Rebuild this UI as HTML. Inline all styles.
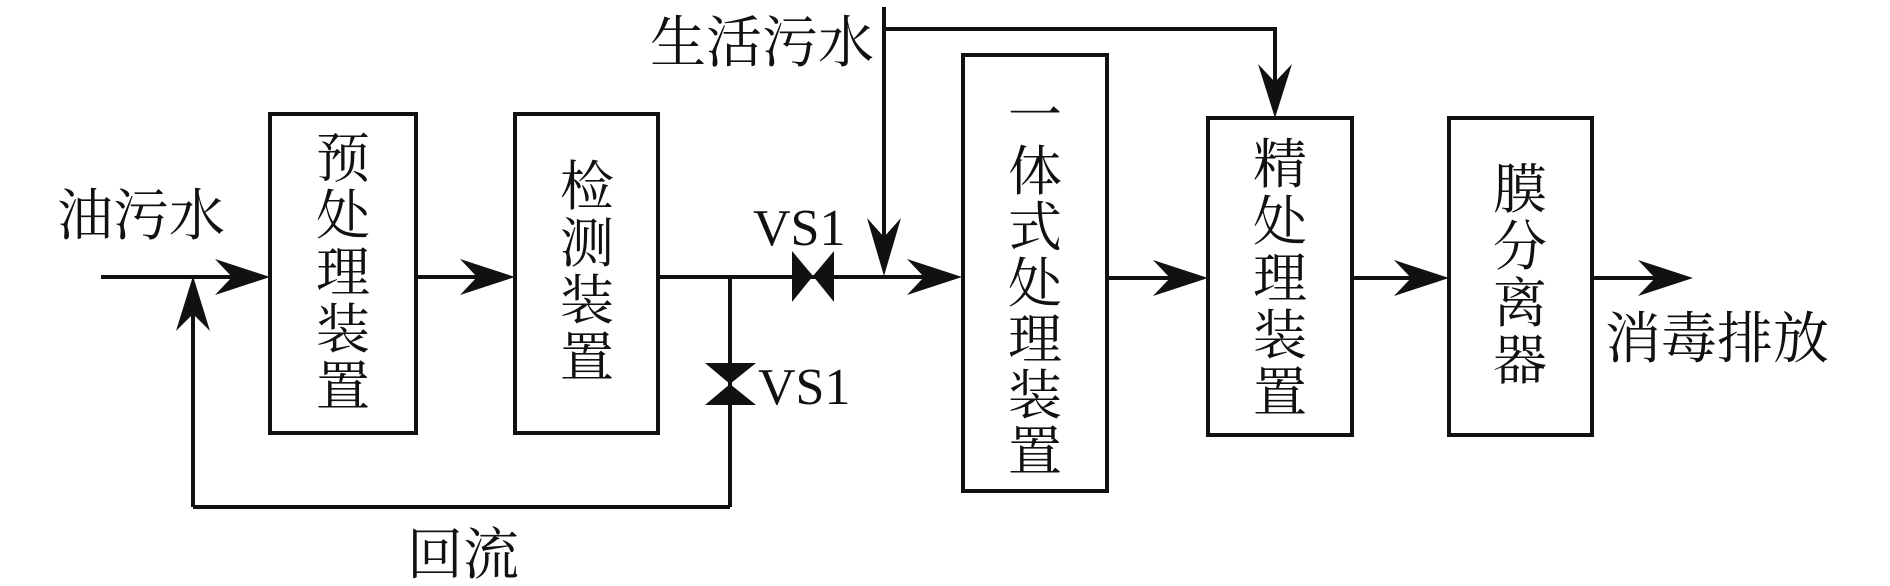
<!DOCTYPE html>
<html><head><meta charset="utf-8"><style>
html,body{margin:0;padding:0;background:#fff;}
svg{display:block;}
text{font-family:"Liberation Serif","Noto Serif CJK SC",serif;fill:#111;}
.c{font-size:54px;text-anchor:middle;}
</style></head><body>
<svg width="1890" height="586" viewBox="0 0 1890 586" xmlns="http://www.w3.org/2000/svg">
<g fill="none" stroke="#111" stroke-width="4">
<rect x="270" y="114" width="146" height="319"/>
<rect x="515" y="114" width="143" height="319"/>
<rect x="963" y="55" width="144" height="436"/>
<rect x="1208" y="118" width="144" height="317"/>
<rect x="1449" y="118" width="143" height="317"/>
<!-- lines -->
<line x1="101" y1="277" x2="262" y2="277"/>
<line x1="416" y1="277" x2="508" y2="277"/>
<line x1="658" y1="277" x2="955" y2="277"/>
<line x1="1107" y1="278" x2="1200" y2="278"/>
<line x1="1352" y1="278" x2="1442" y2="278"/>
<line x1="1592" y1="278" x2="1686" y2="278"/>
<line x1="730" y1="277" x2="730" y2="507"/>
<line x1="193" y1="507" x2="730" y2="507"/>
<line x1="193" y1="507" x2="193" y2="285"/>
<line x1="884" y1="7" x2="884" y2="268"/>
<polyline points="884,29 1275,29 1275,110"/>
</g>
<g fill="#111">
<!-- right arrows: tip, back top, notch, back bottom -->
<polygon points="270,277 215,259 232,277 215,295"/>
<polygon points="515,277 460,259 477,277 460,295"/>
<polygon points="962,277 907,259 924,277 907,295"/>
<polygon points="1208,278 1153,260 1170,278 1153,296"/>
<polygon points="1449,278 1394,260 1411,278 1394,296"/>
<polygon points="1693,278 1638,260 1655,278 1638,296"/>
<!-- up arrow -->
<polygon points="193,276 176,331 193,314 210,331"/>
<!-- down arrows -->
<polygon points="884,276 867,218 884,237 901,218"/>
<polygon points="1275,118 1258,64 1275,82 1292,64"/>
<!-- valves -->
<polygon points="792,251 813,276 792,302"/>
<polygon points="834,251 813,276 834,302"/>
<polygon points="705,363 730,384 756,363"/>
<polygon points="705,405 730,384 756,405"/>
</g>
<text x="57" y="235" style="font-size:56px">油污水</text>
<text x="650" y="62" style="font-size:56px">生活污水</text>
<text x="1605" y="358" style="font-size:56px">消毒排放</text>
<text x="407" y="574" style="font-size:56px">回流</text>
<text x="753" y="245" style="font-size:52px">VS1</text>
<text x="758" y="404" style="font-size:52px">VS1</text>
<text class="c"><tspan x="343" y="177">预</tspan><tspan x="343" dy="57">处</tspan><tspan x="343" dy="57">理</tspan><tspan x="343" dy="57">装</tspan><tspan x="343" dy="57">置</tspan></text>
<text class="c"><tspan x="587" y="205">检</tspan><tspan x="587" dy="57">测</tspan><tspan x="587" dy="57">装</tspan><tspan x="587" dy="57">置</tspan></text>
<text class="c"><tspan x="1035" y="134">一</tspan><tspan x="1035" dy="56">体</tspan><tspan x="1035" dy="56">式</tspan><tspan x="1035" dy="56">处</tspan><tspan x="1035" dy="56">理</tspan><tspan x="1035" dy="56">装</tspan><tspan x="1035" dy="56">置</tspan></text>
<text class="c"><tspan x="1280" y="183">精</tspan><tspan x="1280" dy="57">处</tspan><tspan x="1280" dy="57">理</tspan><tspan x="1280" dy="57">装</tspan><tspan x="1280" dy="57">置</tspan></text>
<text class="c"><tspan x="1520" y="208">膜</tspan><tspan x="1520" dy="57">分</tspan><tspan x="1520" dy="57">离</tspan><tspan x="1520" dy="57">器</tspan></text>
</svg>
</body></html>
